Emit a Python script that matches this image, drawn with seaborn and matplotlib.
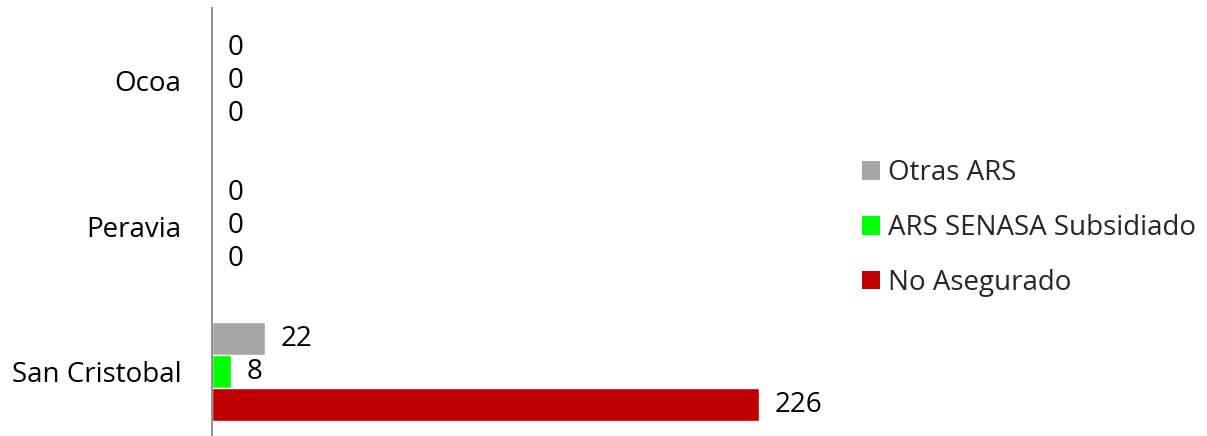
import matplotlib
matplotlib.use("Agg")
import matplotlib.pyplot as plt
from matplotlib.patches import Patch
import seaborn as sns
import pandas as pd

provincias = ["Ocoa", "Peravia", "San Cristobal"]
series = ["Otras ARS", "ARS SENASA Subsidiado", "No Asegurado"]
otras_ars = [0, 0, 22]
senasa = [0, 0, 8]
no_asegurado = [0, 0, 226]
colores = ["#A6A6A6", "#00FF00", "#C00000"]

rows = []
for s, vals in zip(series, [otras_ars, senasa, no_asegurado]):
    for p, v in zip(provincias, vals):
        rows.append({"Provincia": p, "Serie": s, "Valor": v})
df = pd.DataFrame(rows)

sns.set_theme(style="white")
plt.rcParams["font.family"] = ["Open Sans", "DejaVu Sans"]

fig = plt.figure(figsize=(12.07, 4.36), dpi=100)
ax = fig.add_axes([212 / 1207, 0, (250 * 2.42) / 1207, 428 / 436])

sns.barplot(data=df, y="Provincia", x="Valor", hue="Serie", order=provincias,
            hue_order=series, palette=colores, orient="h", width=0.68,
            ax=ax, legend=False, saturation=1)

for cont in ax.containers:
    ax.bar_label(cont, labels=[f"{int(v)}" for v in cont.datavalues],
                 padding=11, fontsize=20, color="black")

ax.set_xlim(0, 250)
ax.set_ylim(-0.5 + 428 / 145.5, -0.5)
ax.set_xlabel("")
ax.set_ylabel("")
ax.set_xticks([])
for sp in ["top", "right", "bottom"]:
    ax.spines[sp].set_visible(False)
ax.spines["left"].set_color("#868686")
ax.spines["left"].set_linewidth(1.3)
ax.tick_params(axis="y", length=0, pad=22, labelsize=20, labelcolor="black")

handles = [Patch(facecolor=c, edgecolor="none") for c in colores]
fig.legend(handles, series, loc="center left", bbox_to_anchor=(851 / 1207, 1 - 228 / 436),
           frameon=False, fontsize=20, handlelength=0.65, handleheight=0.65,
           handletextpad=0.29, labelspacing=0.97, borderaxespad=0)

fig.savefig("out.png", dpi=100)
